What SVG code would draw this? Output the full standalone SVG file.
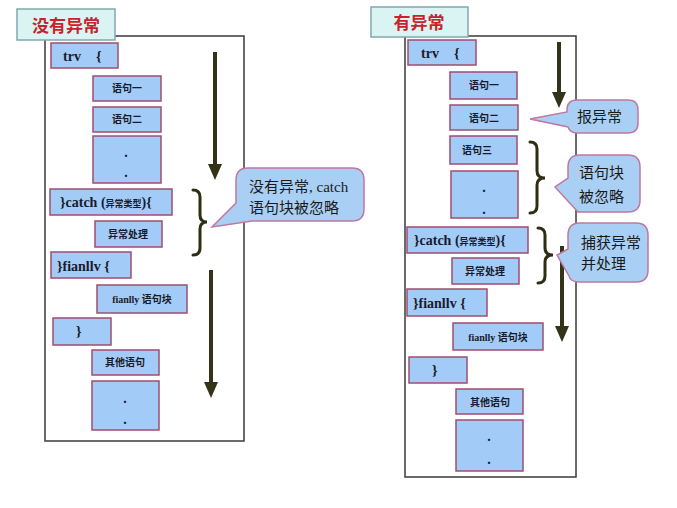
<svg xmlns="http://www.w3.org/2000/svg" width="677" height="508" viewBox="0 0 677 508">
<style>
.frame{fill:#fff;stroke:#3a3a3a;stroke-width:1.5}
.title{fill:#daf4f4;stroke:#7fa9b0;stroke-width:1.5}
.tt{font-family:"Noto Sans CJK SC",sans-serif;font-weight:bold;font-size:17px;fill:#c8232c;text-anchor:middle}
.box{fill:#a2cbf7;stroke:#a04e6e;stroke-width:1.5}
.kw{font-family:"Liberation Serif","Noto Sans CJK SC",serif;font-weight:bold;font-size:14px;fill:#1a1a2a}
.cn{font-family:"Noto Sans CJK SC",sans-serif;font-weight:bold;font-size:10px;fill:#1a1a2a;text-anchor:middle}
.sm{font-family:"Noto Sans CJK SC",sans-serif;font-size:9px}
.dot{font-family:"Liberation Serif",serif;font-weight:bold;font-size:14px;fill:#1a1a3a;text-anchor:middle}
.arrow{stroke:#33331a;stroke-width:4;fill:none}
.head{fill:#33331a}
.brace{stroke:#2e2e14;stroke-width:3;fill:none;stroke-linecap:round}
.bub{fill:#a9d0f4;stroke:#c0789e;stroke-width:1.5}
.bt{font-family:"Noto Sans CJK SC",sans-serif;font-size:15px;fill:#1a1a1a}
</style>

<g id="left-panel">
  <rect class="frame" x="45" y="36" width="199" height="405"/>
  <g id="left-title"><rect class="title" x="17" y="9" width="98" height="31"/><text class="tt" x="66" y="32">没有异常</text></g>
  <g id="l-try"><rect class="box" x="51" y="43" width="67" height="25"/><text class="kw" x="63" y="61">trv<tspan x="96">{</tspan></text></g>
  <g id="l-s1"><rect class="box" x="93" y="76" width="68" height="25"/><text class="cn" x="127" y="92">语句一</text></g>
  <g id="l-s2"><rect class="box" x="93" y="107" width="68" height="25"/><text class="cn" x="127" y="123">语句二</text></g>
  <g id="l-dots1"><rect class="box" x="93" y="136" width="68" height="47"/><text class="dot" x="126" y="157">.</text><text class="dot" x="126" y="177">.</text></g>
  <g id="l-catch"><rect class="box" x="50" y="189" width="122" height="26"/><text class="kw" x="60" y="207">}catch (<tspan class="sm">异常类型</tspan>){</text></g>
  <g id="l-handle"><rect class="box" x="95" y="221" width="67" height="26"/><text class="cn" x="128" y="238">异常处理</text></g>
  <g id="l-finally"><rect class="box" x="51" y="252" width="80" height="26"/><text class="kw" x="57" y="271">}fianllv {</text></g>
  <g id="l-fblock"><rect class="box" x="97" y="285" width="90" height="28"/><text class="cn" x="142" y="303"><tspan font-family="Liberation Serif">fianlly </tspan>语句块</text></g>
  <g id="l-close"><rect class="box" x="53" y="318" width="58" height="27"/><text class="kw" x="76" y="336">}</text></g>
  <g id="l-other"><rect class="box" x="92" y="350" width="67" height="25"/><text class="cn" x="125" y="366">其他语句</text></g>
  <g id="l-dots2"><rect class="box" x="92" y="381" width="67" height="49"/><text class="dot" x="125" y="403">.</text><text class="dot" x="125" y="424">.</text></g>
</g>

<g id="right-panel">
  <rect class="frame" x="405" y="36" width="171" height="441"/>
  <g id="right-title"><rect class="title" x="371" y="7" width="97" height="30"/><text class="tt" x="419" y="29">有异常</text></g>
  <g id="r-try"><rect class="box" x="408" y="40" width="68" height="25"/><text class="kw" x="421" y="58">trv<tspan x="454">{</tspan></text></g>
  <g id="r-s1"><rect class="box" x="450" y="72" width="67" height="27"/><text class="cn" x="484" y="89">语句一</text></g>
  <g id="r-s2"><rect class="box" x="450" y="105" width="68" height="25"/><text class="cn" x="484" y="122">语句二</text></g>
  <g id="r-s3"><rect class="box" x="450" y="136" width="67" height="28"/><text class="cn" x="477" y="154">语句三</text></g>
  <g id="r-dots1"><rect class="box" x="451" y="171" width="67" height="47"/><text class="dot" x="484" y="192">.</text><text class="dot" x="484" y="214">.</text></g>
  <g id="r-catch"><rect class="box" x="407" y="227" width="121" height="26"/><text class="kw" x="414" y="245">}catch (<tspan class="sm">异常类型</tspan>){</text></g>
  <g id="r-handle"><rect class="box" x="452" y="258" width="67" height="26"/><text class="cn" x="485" y="275">异常处理</text></g>
  <g id="r-finally"><rect class="box" x="407" y="289" width="80" height="27"/><text class="kw" x="413" y="308">}fianllv {</text></g>
  <g id="r-fblock"><rect class="box" x="453" y="323" width="90" height="27"/><text class="cn" x="498" y="341"><tspan font-family="Liberation Serif">fianlly </tspan>语句块</text></g>
  <g id="r-close"><rect class="box" x="409" y="357" width="58" height="26"/><text class="kw" x="432" y="375">}</text></g>
  <g id="r-other"><rect class="box" x="456" y="389" width="67" height="25"/><text class="cn" x="490" y="406">其他语句</text></g>
  <g id="r-dots2"><rect class="box" x="456" y="420" width="67" height="51"/><text class="dot" x="489" y="441">.</text><text class="dot" x="489" y="464">.</text></g>
</g>

<g id="connectors">
  <line class="arrow" x1="215" y1="52" x2="215" y2="166"/><polygon class="head" points="208,164 222,164 215,180"/>
  <line class="arrow" x1="211" y1="270" x2="211" y2="384"/><polygon class="head" points="204,382 218,382 211,398"/>
  <line class="arrow" x1="559" y1="42" x2="559" y2="94"/><polygon class="head" points="552,92 566,92 559,108"/>
  <line class="arrow" x1="562" y1="246" x2="562" y2="328"/><polygon class="head" points="555,326 569,326 562,342"/>
  <path class="brace" d="M193,190 Q200,190 200,197 L200,215 Q200,222 207,222 Q200,222 200,229 L200,248 Q200,255 193,255"/>
  <path class="brace" d="M530,142 Q537,142 537,149 L537,171 Q537,178 545,178 Q537,178 537,185 L537,206 Q537,213 530,213"/>
  <path class="brace" d="M538,228 Q545,228 545,235 L545,248 Q545,255 553,255 Q545,255 545,262 L545,276 Q545,283 538,283"/>
</g>

<g id="callout-left">
  <path class="bub" d="M248,168 H352 Q364,168 364,180 V209 Q364,221 352,221 H252 L212,227 L236,203 V180 Q236,168 248,168 Z"/>
  <text class="bt" x="249" y="192">没有异常<tspan font-family="Liberation Serif">, catch</tspan></text>
  <text class="bt" x="249" y="213">语句块被忽略</text>
</g>
<g id="callout-report">
  <path class="bub" d="M577,100 H628 Q638,100 638,110 V123 Q638,133 628,133 H577 Q570,133 568,127 L530,119 L567,112 V110 Q567,100 577,100 Z"/>
  <text class="bt" x="577" y="122" font-size="16">报异常</text>
</g>
<g id="callout-skip">
  <path class="bub" d="M580,155 H628 Q640,155 640,167 V200 Q640,212 628,212 H578 L555,187 L568,178 V167 Q568,155 580,155 Z"/>
  <text class="bt" x="579" y="178">语句块</text>
  <text class="bt" x="579" y="202">被忽略</text>
</g>
<g id="callout-catch">
  <path class="bub" d="M580,223 H636 Q648,223 648,235 V270 Q648,282 636,282 H580 Q570,282 569,276 L557,255 L568,249 V235 Q568,223 580,223 Z"/>
  <text class="bt" x="581" y="248" font-size="13.5">捕获异常</text>
  <text class="bt" x="581" y="269" font-size="13.5">并处理</text>
</g>
</svg>
